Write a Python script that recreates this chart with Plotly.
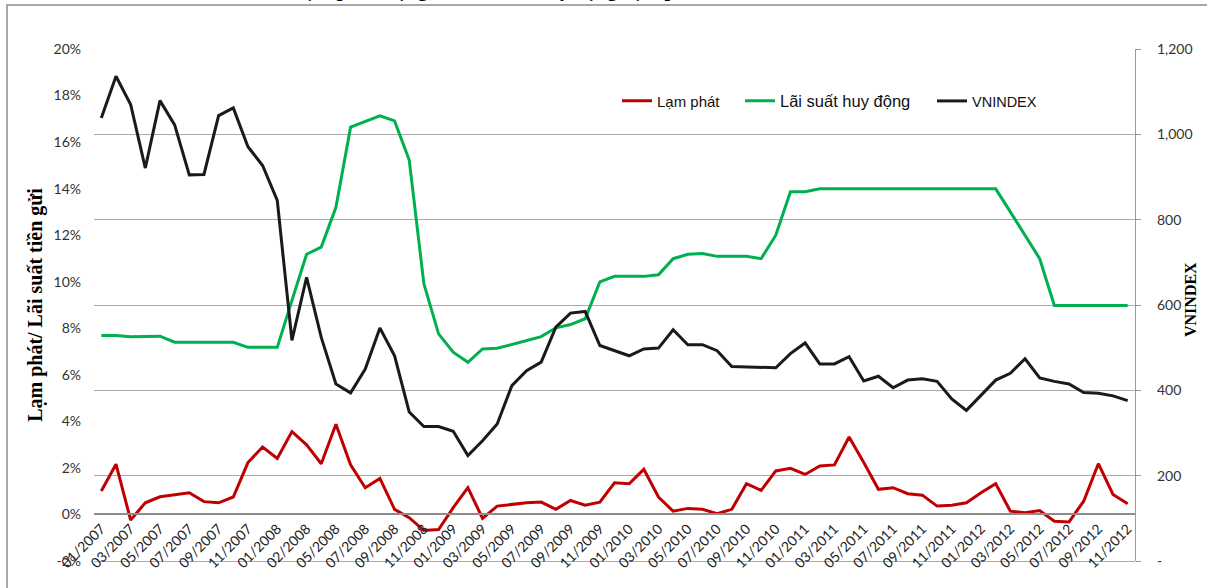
import plotly.graph_objects as go

# ---- data ----
lam_phat = [1.01, 2.16, -0.24, 0.50, 0.76, 0.83, 0.93, 0.55, 0.50, 0.75,
            2.23, 2.90, 2.41, 3.56, 2.99, 2.18, 3.88, 2.13, 1.15, 1.55,
            0.22, -0.14, -0.69, -0.65, 0.29, 1.15, -0.17, 0.36, 0.43, 0.50,
            0.53, 0.22, 0.60, 0.40, 0.53, 1.36, 1.32, 1.94, 0.75, 0.14,
            0.26, 0.22, 0.03, 0.22, 1.32, 1.03, 1.87, 1.98, 1.72, 2.08,
            2.13, 3.33, 2.23, 1.08, 1.15, 0.89, 0.83, 0.36, 0.40, 0.50,
            0.93, 1.32, 0.14, 0.07, 0.17, -0.29, -0.32, 0.57, 2.18, 0.86,
            0.46]

lai_suat = [7.69, 7.69, 7.64, 7.64, 7.66, 7.40, 7.40, 7.40, 7.40, 7.40,
            7.18, 7.18, 7.18, 9.20, 11.18, 11.49, 13.20, 16.64, 16.88, 17.13,
            16.91, 15.23, 9.91, 7.76, 6.97, 6.54, 7.11, 7.14, 7.30, 7.47,
            7.64, 8.02, 8.16, 8.41, 9.99, 10.23, 10.23, 10.23, 10.30, 10.99,
            11.18, 11.21, 11.09, 11.09, 11.09, 10.99, 12.00, 13.87, 13.87, 13.99,
            13.99, 13.99, 13.99, 13.99, 13.99, 13.99, 13.99, 13.99, 13.99, 13.99,
            13.99, 13.99, 13.00, 12.00, 10.99, 8.98, 8.98, 8.98, 8.98, 8.98,
            8.98]

vnindex = [1038, 1136, 1070, 921, 1079, 1022, 905, 906, 1044, 1062,
           971, 927, 845, 517, 665, 524, 415, 394, 450, 546,
           481, 349, 315, 315, 304, 247, 282, 321, 411, 446,
           466, 548, 581, 585, 505, 493, 481, 497, 499, 542,
           507, 507, 493, 456, 455, 453, 453, 486, 511, 462,
           462, 479, 422, 433, 406, 424, 427, 421, 380, 353,
           388, 424, 440, 474, 429, 421, 415, 395, 393, 387,
           376]

tick_labels = ["01/2007", "03/2007", "05/2007", "07/2007", "09/2007", "11/2007",
               "01/2008", "02/2008", "05/2008", "07/2008", "09/2008", "11/2008",
               "01/2009", "03/2009", "05/2009", "07/2009", "09/2009", "11/2009",
               "01/2010", "03/2010", "05/2010", "07/2010", "09/2010", "11/2010",
               "01/2011", "03/2011", "05/2011", "07/2011", "09/2011", "11/2011",
               "01/2012", "03/2012", "05/2012", "07/2012", "09/2012", "11/2012"]

left_ticks = [-2, 0, 2, 4, 6, 8, 10, 12, 14, 16, 18, 20]
left_tick_text = ["-2%", "0%", "2%", "4%", "6%", "8%", "10%", "12%", "14%",
                  "16%", "18%", "20%"]
right_ticks = [0, 200, 400, 600, 800, 1000, 1200]
right_tick_text = ["-", "200", "400", "600", "800", "1,000", "1,200"]

series_names = ["Lạm phát", "Lãi suất huy động", "VNINDEX"]
left_title = "Lạm phát/ Lãi suất tiền gửi"
right_title = "VNINDEX"

# ---- figure ----
W, H = 1207, 588
L, R, T, B = 94, 72, 49, 27
plot_w = W - L - R
plot_h = H - T - B


def px_x(p):
    return (p - L) / plot_w


def px_y(p):
    return (H - B - p) / plot_h


x = list(range(len(vnindex)))
fig = go.Figure()
fig.add_trace(go.Scatter(x=x, y=lam_phat, name=series_names[0], mode="lines",
                         line=dict(color="#C00000", width=3), yaxis="y",
                         legend="legend"))
fig.add_trace(go.Scatter(x=x, y=lai_suat, name=series_names[1], mode="lines",
                         line=dict(color="#00B050", width=3), yaxis="y",
                         legend="legend2"))
fig.add_trace(go.Scatter(x=x, y=vnindex, name=series_names[2], mode="lines",
                         line=dict(color="#1A1A1A", width=3), yaxis="y2",
                         legend="legend3"))

leg_common = dict(orientation="h", xanchor="left", yanchor="middle",
                  y=px_y(101), bgcolor="rgba(0,0,0,0)", itemwidth=30)

fig.update_layout(
    width=W, height=H,
    margin=dict(l=L, r=R, t=T, b=B, autoexpand=False),
    paper_bgcolor="white", plot_bgcolor="white",
    showlegend=True,
    legend=dict(x=px_x(617), font=dict(family="Liberation Sans", size=15,
                                       color="#111"), **leg_common),
    legend2=dict(x=px_x(740), font=dict(family="Liberation Sans", size=16.5,
                                        color="#111"), **leg_common),
    legend3=dict(x=px_x(932), font=dict(family="Liberation Sans", size=14.5,
                                        color="#111"), **leg_common),
    xaxis=dict(range=[-0.5, len(vnindex) - 0.5],
               tickvals=x[::2], ticktext=tick_labels, tickangle=-45,
               tickfont=dict(family="Lato", size=14, color="#222"),
               showgrid=False, zeroline=False,
               showline=True, linecolor="#8c8c8c", linewidth=1.5,
               anchor="free", position=2 / 22, ticks="", automargin=False),
    yaxis=dict(range=[-2, 20], tickvals=left_ticks, ticktext=left_tick_text,
               tickfont=dict(family="Lato", size=14, color="#333"),
               showgrid=False, zeroline=False, showline=False,
               ticks="", ticklabelstandoff=12, automargin=False,
               title=dict(text="<b>" + left_title + "</b>", standoff=5,
                          font=dict(family="Liberation Serif", size=20,
                                    color="#000"))),
    yaxis2=dict(range=[0, 1200], tickvals=right_ticks, ticktext=right_tick_text,
                overlaying="y", side="right",
                tickfont=dict(family="Lato", size=14, color="#333"),
                showgrid=True, gridcolor="#ababab", gridwidth=1.3,
                zeroline=True, zerolinecolor="#ababab", zerolinewidth=1.3,
                showline=True, linecolor="#9a9a9a", linewidth=1.3,
                ticks="outside", ticklen=5, tickcolor="#9a9a9a",
                ticklabelstandoff=13, automargin=False),
)

# right axis title placed beside the tick labels
fig.add_annotation(text="<b>" + right_title + "</b>", textangle=-90,
                   xref="paper", yref="paper", x=px_x(1190), y=px_y(300),
                   xanchor="center", yanchor="middle", showarrow=False,
                   font=dict(family="Liberation Serif", size=16, color="#000"))

# chart frame (outer border)
fig.add_shape(type="rect", xref="paper", yref="paper",
              x0=px_x(7), x1=px_x(W + 20),
              y0=px_y(H + 20), y1=px_y(5),
              line=dict(color="#8c8c8c", width=1.5), fillcolor="rgba(0,0,0,0)",
              layer="below")

# cropped document title above the frame
fig.add_annotation(text="<b>Biểu đồ: Lạm phát, động thái lãi suất huy động, lạm phát và VNINDEX</b>",
                   xref="paper", yref="paper", x=px_x(214), y=1,
                   xanchor="left", yanchor="bottom", yshift=T - 2,
                   showarrow=False, borderpad=0,
                   font=dict(family="Liberation Serif", size=20, color="#000"))

fig.write_html("out.html",
               config={"displayModeBar": False},
               post_script="document.body.style.margin='0px';"
                           "document.body.style.overflow='hidden';")
